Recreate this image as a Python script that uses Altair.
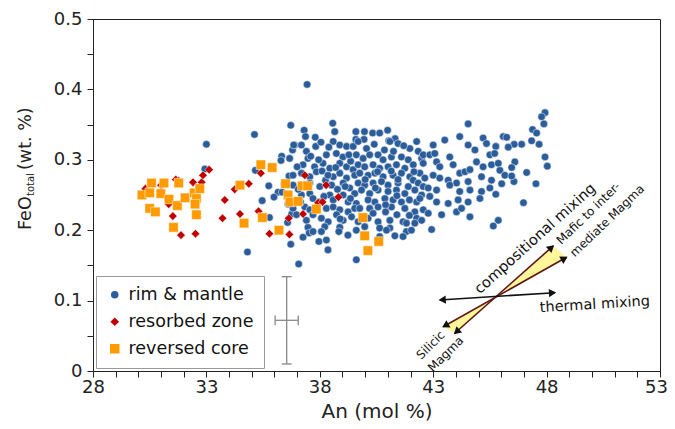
import altair as alt
import pandas as pd

GROUPS = ["rim & mantle", "resorbed zone", "reversed core"]
COLORS = ["#2b5d9b", "#c00000", "#ff9a00"]
SHAPES = ["circle", "diamond", "square"]
SIZES = [58, 90, 52]

# rim & mantle (An mol %, FeO wt.%)
rim_points = [
    (33.00, .322), (35.12, .336), (36.72, .349), (32.93, .287), (35.16, .285), (36.32, .305),
    (36.29, .299), (36.67, .302), (36.80, .314), (36.89, .321), (35.75, .263), (36.43, .266),
    (36.64, .277), (36.16, .254), (35.98, .247), (36.34, .254), (35.46, .242), (35.78, .218),
    (36.58, .211), (36.76, .223), (36.72, .180), (34.81, .169), (36.60, .237),
    (37.44, .407), (37.31, .342), (38.57, .352), (38.66, .340), (37.37, .333), (37.80, .332),
    (39.59, .340), (39.97, .340), (40.33, .338), (40.64, .338), (40.99, .342), (39.59, .329),
    (39.95, .329), (41.04, .327), (41.32, .330),
    (36.85, .321), (37.19, .321), (37.82, .319), (38.59, .326), (38.88, .321), (39.18, .319), (39.47, .319),
    (37.41, .312), (37.48, .302), (38.29, .307), (38.73, .309), (39.02, .304), (39.61, .307),
    (37.26, .293), (37.77, .290), (38.14, .295), (38.44, .288), (38.88, .295), (39.18, .290), (39.47, .286), (39.69, .293),
    (36.82, .278), (37.19, .281), (37.56, .276), (37.85, .283), (38.59, .276), (38.88, .281), (39.18, .274), (39.54, .278),
    (36.82, .264), (37.56, .267), (38.00, .262), (38.52, .264), (39.03, .267), (39.32, .260), (39.69, .267),
    (37.19, .250), (37.56, .252), (37.70, .245), (38.44, .250), (38.59, .243), (39.03, .250), (39.25, .240), (39.54, .252), (39.61, .238),
    (36.82, .231), (37.34, .233), (37.56, .229), (38.29, .231), (38.59, .233), (38.88, .229), (39.25, .226), (39.54, .231),
    (36.97, .222), (37.41, .214), (38.07, .217), (38.37, .212), (38.74, .222), (39.03, .214), (39.40, .219), (39.69, .212),
    (37.48, .204), (38.22, .205), (38.88, .204),
    (37.95, .300), (38.40, .318), (38.10, .284), (38.25, .271), (37.98, .240), (38.78, .258), (39.36, .298),
    (38.05, .325), (37.00, .290), (37.05, .258), (38.70, .289), (39.12, .262), (38.18, .248), (39.35, .245),
    (37.70, .222), (38.90, .216), (37.15, .240), (39.28, .307), (38.36, .278), (37.60, .305),
    (39.69, .326), (40.06, .316), (41.09, .326), (41.45, .323), (41.97, .316), (42.34, .312),
    (39.91, .302), (40.20, .307), (40.57, .307), (40.79, .300), (41.16, .304), (41.60, .304), (41.90, .300), (42.49, .302),
    (39.98, .290), (40.35, .293), (40.64, .288), (41.01, .290), (41.38, .293), (41.75, .288), (42.12, .293),
    (39.76, .281), (40.13, .278), (40.43, .281), (40.79, .276), (41.23, .278), (41.60, .281), (41.97, .276), (42.41, .281),
    (39.98, .264), (40.35, .267), (40.72, .269), (41.01, .264), (41.45, .267), (42.12, .271), (42.34, .267), (42.56, .262),
    (39.84, .257), (40.20, .252), (40.57, .257), (41.01, .255), (41.38, .257), (41.75, .252), (42.19, .257), (42.49, .250),
    (40.13, .243), (40.43, .240), (40.87, .245), (41.23, .243), (41.60, .240), (42.27, .240),
    (39.76, .231), (40.20, .231), (40.57, .233), (41.16, .233), (41.75, .231), (42.19, .226), (42.56, .229),
    (40.13, .217), (40.57, .212), (41.09, .214), (41.67, .212), (42.27, .217),
    (40.64, .203), (41.09, .203),
    (40.40, .322), (40.85, .314), (41.25, .312), (41.70, .320), (40.00, .272), (40.55, .283), (41.15, .284),
    (41.45, .272), (41.90, .262), (40.45, .260), (40.90, .236), (41.40, .249), (41.95, .243), (40.35, .224),
    (41.40, .222), (41.95, .221), (40.90, .226), (42.15, .283),
    (42.27, .326), (42.56, .307), (42.85, .307), (43.00, .321), (43.07, .309), (43.51, .328), (44.17, .333),
    (44.54, .321), (45.20, .331), (45.35, .323), (45.50, .307), (44.84, .314),
    (42.56, .295), (43.15, .297), (43.29, .290), (43.73, .304), (43.88, .293), (44.17, .281), (44.40, .283),
    (44.62, .286), (44.91, .297), (45.20, .290), (45.57, .293),
    (42.63, .274), (43.00, .278), (43.29, .274), (43.66, .271), (44.03, .267), (44.54, .269), (45.13, .276), (45.57, .271),
    (42.78, .260), (43.15, .257), (43.73, .264), (44.17, .255), (44.62, .257), (45.13, .255), (45.50, .260),
    (42.41, .245), (42.85, .248), (43.15, .240), (43.66, .238), (44.10, .243), (44.54, .240), (45.06, .245),
    (42.78, .224), (43.37, .222), (44.03, .226), (44.25, .231), (44.62, .219),
    (47.93, .367), (47.78, .361), (47.88, .351), (47.38, .343), (47.56, .338), (44.54, .351), (46.09, .333),
    (46.24, .332), (46.90, .322), (47.34, .327), (47.67, .322), (46.57, .322), (46.31, .318), (45.76, .319),
    (45.71, .309), (47.93, .304), (48.03, .291), (47.12, .282), (47.53, .266), (46.60, .297), (46.46, .289),
    (46.56, .269), (45.87, .295), (45.94, .285), (46.16, .278), (46.46, .277), (46.02, .266), (46.98, .239),
    (45.87, .214), (45.65, .206), (42.93, .201), (45.76, .251),
    (41.82, .198), (42.04, .200), (41.67, .191), (42.49, .214),
    (37.07, .152), (38.36, .172), (37.96, .184), (38.29, .186), (38.84, .198), (39.24, .193), (39.61, .158),
    (40.64, .191), (40.94, .200), (41.31, .192), (41.82, .210), (42.19, .210), (37.53, .196), (37.26, .190),
    (37.70, .198), (38.07, .198), (39.98, .205), (39.61, .200),
]

# resorbed zone
res_an = [30.31, 31.00, 31.65, 31.78, 32.41, 32.79, 32.85, 33.12, 31.34, 31.52, 31.88, 32.52, 33.81, 34.25,
          34.87, 34.48, 33.71, 35.30, 35.40, 35.78, 36.63, 37.34, 38.28, 38.82, 37.93, 38.12, 37.26, 36.66]
res_feo = [.259, .264, .272, .270, .268, .268, .278, .286, .237, .220, .193, .195, .243, .258,
           .266, .223, .217, .227, .281, .195, .217, .278, .264, .247, .239, .240, .223, .194]

# reversed core
rev_an = [30.58, 31.13, 31.78, 30.16, 30.50, 30.99, 31.35, 30.50, 30.75, 31.72, 32.06, 32.46, 32.71, 32.56,
          32.50, 32.56, 31.55, 34.48, 35.40, 35.90, 34.66, 35.47, 36.20, 36.49, 37.22, 37.46, 36.60, 36.68,
          37.04, 37.85, 39.90, 39.98, 40.60, 40.12]
rev_feo = [.267, .267, .267, .250, .253, .252, .244, .231, .226, .235, .246, .253, .259, .245,
           .237, .222, .204, .264, .293, .289, .210, .218, .200, .266, .263, .263, .250, .240,
           .241, .230, .218, .192, .184, .171]

# axis ticks
x_ticks = list(range(28, 54))
y_ticks = [0, 0.05, 0.1, 0.15, 0.2, 0.25, 0.3, 0.35, 0.4, 0.45, 0.5]

# analytical error bar (center An, FeO and half-ranges)
err_center = (36.54, 0.072)
err_half = (0.51, 0.062)
err_cap = (0.22, 0.007)

# annotation segments: x1, y1, x2, y2
thermal_seg = [(43.29, 0.1009, 48.37, 0.1112)]
comp_segs = [(43.44, 0.0629, 48.88, 0.1615), (43.95, 0.0536, 48.29, 0.1776)]
# arrow heads: x, y, angle
heads = [(43.45, 0.1012, 266.4), (48.21, 0.1109, 86.4),
         (48.74, 0.1590, 60.6), (43.58, 0.0654, 240.6),
         (48.17, 0.1742, 48.4), (44.07, 0.0569, 228.4)]
# yellow wedges
wedge_part = ["up", "up", "up", "low", "low", "low"]
wedge_x = [45.74, 48.29, 48.88, 43.44, 43.95, 45.74]
wedge_y = [0.1047, 0.1776, 0.1615, 0.0629, 0.0722, 0.1047]
wedge_y2 = [0.1047, 0.1508, 0.1615, 0.0629, 0.0536, 0.1047]
# annotation labels
ann_text = ["compositional mixing", "Mafic to inter-", "mediate Magma", "thermal mixing", "Silicic", "Magma"]
ann_x = [47.51, 49.84, 50.67, 50.13, 42.88, 43.55]
ann_y = [0.1875, 0.224, 0.2135, 0.094, 0.0369, 0.0241]
ann_angle = [318, 316, 316, 356.5, 315, 315]
ann_size = [14.7, 12, 12, 14.5, 12, 12]

FONT = "DejaVu Sans"

rows = []
for a, f in rim_points:
    rows.append({"An": a, "FeO": f, "group": GROUPS[0], "idx": len(rows)})
for a, f in zip(res_an, res_feo):
    rows.append({"An": a, "FeO": f, "group": GROUPS[1], "idx": len(rows)})
for a, f in zip(rev_an, rev_feo):
    rows.append({"An": a, "FeO": f, "group": GROUPS[2], "idx": len(rows)})
df = pd.DataFrame(rows)

xs = alt.Scale(domain=[28, 53], nice=False, zero=False)
ys = alt.Scale(domain=[0, 0.5], nice=False, zero=False)

leg = alt.Legend(title=None, orient="none", legendX=3, legendY=257, direction="vertical",
                 strokeColor="#999999", fillColor="white", padding=10, labelFontSize=17.5,
                 labelFont=FONT, labelColor="#111111", symbolSize=130, rowPadding=8,
                 labelOffset=5, symbolStrokeWidth=0)

points = alt.Chart(df).mark_point(filled=True, opacity=1, stroke="white", strokeWidth=0.5).encode(
    x=alt.X("An:Q", scale=xs, axis=alt.Axis(values=x_ticks, title="An (mol %)",
                                             labelExpr="datum.value % 5 == 3 ? datum.label : ''",
                                             labelOffset={"condition": {"test": "datum.value == 53", "value": -4},
                                                          "value": 0},
                                             labelPadding=1, titlePadding=5, labelFlush=False)),
    y=alt.Y("FeO:Q", scale=ys, axis=alt.Axis(values=y_ticks, title=None, format="~g",
                                              labelExpr="round(datum.value*100) % 10 == 0 ? datum.label : ''",
                                              labelPadding=5)),
    color=alt.Color("group:N", scale=alt.Scale(domain=GROUPS, range=COLORS), legend=leg),
    shape=alt.Shape("group:N", scale=alt.Scale(domain=GROUPS, range=SHAPES), legend=leg),
    size=alt.Size("group:N", scale=alt.Scale(domain=GROUPS, range=SIZES), legend=None),
    order=alt.Order("idx:Q"),
)

cx, cy = err_center
hx, hy = err_half
kx, ky = err_cap
err_df = pd.DataFrame([
    {"x1": cx, "y1": cy - hy, "x2": cx, "y2": cy + hy},
    {"x1": cx - hx, "y1": cy, "x2": cx + hx, "y2": cy},
    {"x1": cx - kx, "y1": cy + hy, "x2": cx + kx, "y2": cy + hy},
    {"x1": cx - kx, "y1": cy - hy, "x2": cx + kx, "y2": cy - hy},
    {"x1": cx - hx, "y1": cy - ky, "x2": cx - hx, "y2": cy + ky},
    {"x1": cx + hx, "y1": cy - ky, "x2": cx + hx, "y2": cy + ky},
])


def seg_enc(ch):
    return ch.encode(
        x=alt.X("x1:Q", scale=xs, axis=None), y=alt.Y("y1:Q", scale=ys, axis=None),
        x2="x2:Q", y2="y2:Q")


err = seg_enc(alt.Chart(err_df).mark_rule(color="#8a8a8a", strokeWidth=1.3))

wedge_df = pd.DataFrame({"part": wedge_part, "x": wedge_x, "y": wedge_y, "y2": wedge_y2})
wedges = alt.Chart(wedge_df).mark_area(color="#fff59a", opacity=1).encode(
    x=alt.X("x:Q", scale=xs, axis=None), y=alt.Y("y:Q", scale=ys, axis=None), y2="y2:Q",
    detail="part:N")

seg_cols = ["x1", "y1", "x2", "y2"]
comp = seg_enc(alt.Chart(pd.DataFrame(comp_segs, columns=seg_cols)).mark_rule(color="#5e1515", strokeWidth=1.6))
thermal = seg_enc(alt.Chart(pd.DataFrame(thermal_seg, columns=seg_cols)).mark_rule(color="#111111", strokeWidth=1.6))

heads_df = pd.DataFrame(heads, columns=["x", "y", "ang"])
arrow_heads = alt.Chart(heads_df).mark_point(shape="triangle", filled=True, color="#111111", size=70, opacity=1).encode(
    x=alt.X("x:Q", scale=xs, axis=None), y=alt.Y("y:Q", scale=ys, axis=None),
    angle=alt.Angle("ang:Q", scale=None))

ann_df = pd.DataFrame({"t": ann_text, "x": ann_x, "y": ann_y, "ang": ann_angle, "fs": ann_size})
ann = alt.Chart(ann_df).mark_text(font=FONT, color="#111111", align="center", baseline="middle").encode(
    x=alt.X("x:Q", scale=xs, axis=None), y=alt.Y("y:Q", scale=ys, axis=None),
    text="t:N", angle=alt.Angle("ang:Q", scale=None), size=alt.Size("fs:Q", scale=None))

dummy = pd.DataFrame({"a": [0]})
yt1 = alt.Chart(dummy).mark_text(text="FeO", angle=270, align="left", baseline="middle",
                                  font=FONT, fontSize=17.5, color="#222222").encode(
    x=alt.value(-67.5), y=alt.value(211))
yt2 = alt.Chart(dummy).mark_text(text="total", angle=270, align="left", baseline="middle",
                                  font=FONT, fontSize=10, color="#222222").encode(
    x=alt.value(-62.5), y=alt.value(177))
yt3 = alt.Chart(dummy).mark_text(text="(wt. %)", angle=270, align="left", baseline="middle",
                                  font=FONT, fontSize=17.5, color="#222222").encode(
    x=alt.value(-67.5), y=alt.value(151))

chart = alt.layer(points, err, wedges, comp, thermal, arrow_heads, ann, yt1, yt2, yt3).resolve_axis(
    x="independent", y="independent"
).properties(
    width=567, height=352,
    autosize=alt.AutoSizeParams(type="none"),
    padding={"left": 85, "top": 11, "right": 7, "bottom": 50},
    background="white",
).configure_view(
    stroke="#222222", strokeWidth=1
).configure_axis(
    domainColor="#222222", tickColor="#222222", labelColor="#222222", labelFont=FONT,
    labelFontSize=18, titleFont=FONT, titleFontSize=20, titleFontWeight="normal",
    titleColor="#222222", grid=False, tickSize=6
)

chart.save("out.html", embed_options={"renderer": "svg", "actions": False})
